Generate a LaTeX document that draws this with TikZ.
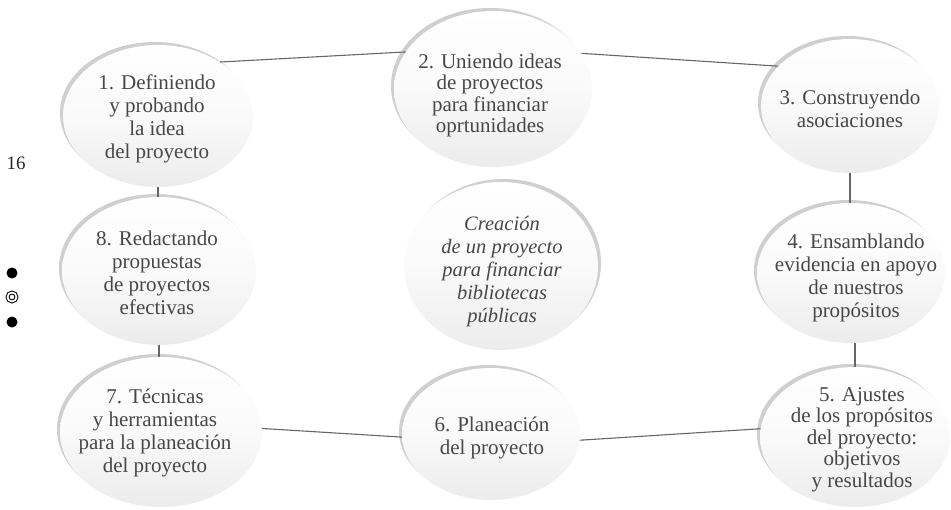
\documentclass[tikz,border=0pt]{standalone}
\usepackage{fontspec}
\setmainfont{Liberation Serif}
\usetikzlibrary{shapes.geometric,shadows}
\begin{document}
\begin{tikzpicture}[x=1pt,y=-1pt,
  bubbase/.style={ellipse, inner sep=0pt, top color=white, bottom color=gray!15, middle color=gray!4},
  bub/.style={bubbase, general shadow={fill=gray!38, shadow xshift=-3pt, shadow yshift=3pt}},
  bubr/.style={bubbase, general shadow={fill=gray!38, shadow xshift=3pt, shadow yshift=3pt}},
  txt/.style={align=center, font=\fontsize{21}{23}\selectfont, text=black!72, inner sep=0pt},
  txttight/.style={txt, font=\fontsize{21}{21.5}\selectfont},
  txtit/.style={txt, font=\fontsize{20.5}{23}\selectfont\itshape},
  link/.style={draw=black!60, line width=1.1pt},
  dotfill/.style={circle, fill=black, minimum size=11pt, inner sep=0pt},
  dotring/.style={circle, draw=black, line width=1pt, double=white, double distance=1.8pt, minimum size=9pt, inner sep=0pt}
]
\useasboundingbox (0,0) rectangle (951,509);

% bubbles
\node[bub, minimum width=190pt, minimum height=142pt] (e1) at (158,116) {};
\node[bub, minimum width=198pt, minimum height=156pt] (e2) at (493,89) {};
\node[bub, minimum width=178pt, minimum height=134pt] (e3) at (850,106) {};
\node[bub, minimum width=188pt, minimum height=140pt] (e4) at (851,273) {};
\node[bub, minimum width=190pt, minimum height=140pt] (e5) at (855,437) {};
\node[bub, minimum width=178pt, minimum height=132pt] (e6) at (491,434) {};
\node[bub, minimum width=202pt, minimum height=150pt] (e7) at (161,432) {};
\node[bub, minimum width=194pt, minimum height=148pt] (e8) at (159,271) {};
\node[bubr, minimum width=194pt, minimum height=168pt] (ec) at (501,266) {};

% texts
\node[txt] (t1) at (157,119) {1. Definiendo\\y probando\\la idea\\del proyecto};
\node[txttight] (t2) at (490,95.5) {2. Uniendo ideas\\de proyectos\\para financiar\\oprtunidades};
\node[txt] (t3) at (850,108.5) {3. Construyendo\\asociaciones};
\node[txt] (t4) at (856,277.5) {4. Ensamblando\\evidencia en apoyo\\de nuestros\\propósitos};
\node[txttight] (t5) at (862,439.5) {5. Ajustes\\de los propósitos\\del proyecto:\\objetivos\\y resultados};
\node[txt] (t6) at (492,438) {6. Planeación\\del proyecto};
\node[txt] (t7) at (155,433) {7. Técnicas\\y herramientas\\para la planeación\\del proyecto};
\node[txt] (t8) at (157,272.5) {8. Redactando\\propuestas\\de proyectos\\efectivas};
\node[txtit] (tc) at (502,271.5) {Creación\\de un proyecto\\para financiar\\bibliotecas\\públicas};

% connectors
\draw[link] (e1.41) -- (e2.157);
\draw[link] (e2.22) -- (e3.151);
\draw[link] (e3.south) -- (e3.south |- e4.north);
\draw[link] (e5.north |- e4.south) -- (e5.north);
\draw[link] (e1.south) -- (e1.south |- e8.north);
\draw[link] (e8.south) -- (e8.south |- e7.north);
\draw[link] (e7.2) -- (e6.182);
\draw[link] (e6.-4) -- (e5.175);

% margin marks
\node[font=\fontsize{19}{21}\selectfont, text=black!85, inner sep=0pt] (pg) at (16,163) {16};
\node[dotfill] (d1) at (12,273) {};
\node[dotring] (d2) at (12,297) {};
\node[dotfill] (d3) at (12,322) {};
\end{tikzpicture}
\end{document}
